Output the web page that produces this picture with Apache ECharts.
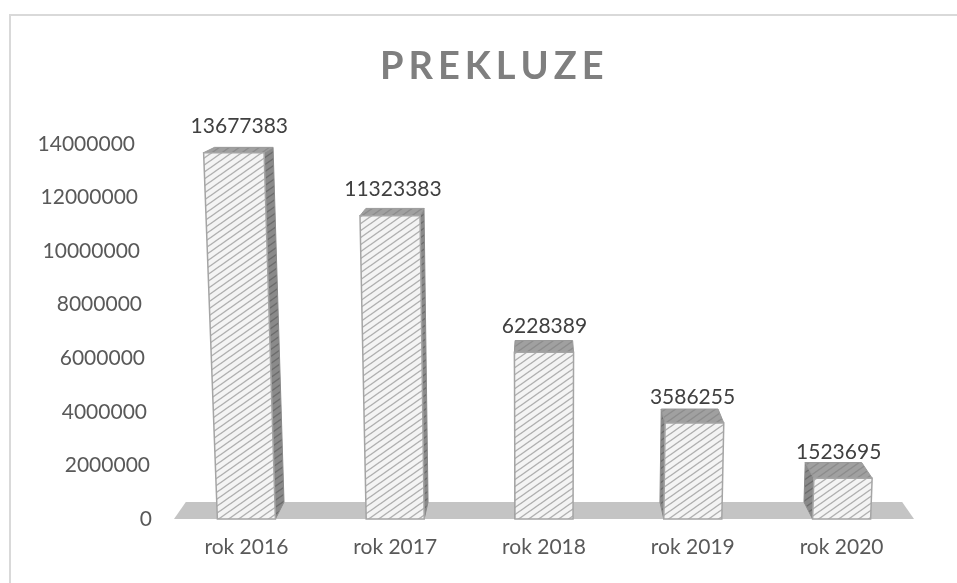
<!DOCTYPE html>
<html>
<head>
<meta charset="utf-8">
<script src="https://cdn.jsdelivr.net/npm/echarts@6/dist/echarts.min.js"></script>
<style>
    html, body {margin: 0; padding: 0; background: #fff;}
    #main {width: 957px; height: 583px;}
</style>
</head>
<body>
<div id="main"></div>
<script>
// data
var years = ['rok 2016', 'rok 2017', 'rok 2018', 'rok 2019', 'rok 2020'];
var values = [13677383, 11323383, 6228389, 3586255, 1523695];
var yMin = 0, yMax = 14000000, yStep = 2000000;

// perspective of the excel 3d chart
var VX = 544, VY = -12;   // depth vanishing point
var DEPTH = 0.032;        // how far the back face sits
var LEAN = 1.15e-4;       // vertical lines lean in to the bottom
var FONT = 'Lato, "Open Sans", sans-serif';

// hatch pattern /////
function hatch(bg, line, lw) {
    var c = document.createElement('canvas');
    c.width = 10;
    c.height = 7;
    var ctx = c.getContext('2d');
    ctx.fillStyle = bg;
    ctx.fillRect(0, 0, 10, 7);
    ctx.strokeStyle = line;
    ctx.lineWidth = lw;
    [0, 7, 14].forEach(function (b) {
        ctx.beginPath();
        ctx.moveTo(-10, b + 7);
        ctx.lineTo(20, b - 14);
        ctx.stroke();
    });
    return {image: c, repeat: 'repeat'};
}
var frontFill = hatch('#f4f4f4', '#b0b0b0', 1.4);
var sideFill = hatch('#8a8a8a', '#6c6c6c', 1.4);
var topFill = hatch('#a0a0a0', '#8c8c8c', 1.4);

function back(p) {
    return [p[0] + (VX - p[0]) * DEPTH, p[1] - (p[1] - VY) * DEPTH];
}

function renderItem(params, api) {
    var idx = api.value(0);
    var v = api.value(1);
    var base = api.coord([idx, 0]);
    var top = api.coord([idx, v]);
    var band = api.size([1, 0])[0];
    var w = band * 0.195;
    var cx = base[0], yb = base[1], yt = top[1], h = yb - yt;
    var lean = function (x) { return x + (x - VX) * LEAN * h; };
    var BL = [cx - w, yb], BR = [cx + w, yb];
    var TL = [lean(cx - w), yt], TR = [lean(cx + w), yt];
    var children = [];

    // floor goes under the first bar
    if (params.dataIndex === 0) {
        var cs = params.coordSys;
        var fy = cs.y + cs.height;
        var FL = [cs.x + 2, fy], FR = [cs.x + cs.width - 2, fy];
        children.push({
            type: 'polygon',
            shape: {points: [FL, FR, back(FR), back(FL)]},
            style: {fill: '#c4c4c4'}
        });
    }

    var side = cx < VX ? [BR, TR, back(TR), back(BR)] : [BL, TL, back(TL), back(BL)];
    children.push({
        type: 'polygon',
        shape: {points: side},
        style: {fill: sideFill, stroke: '#8a8a8a', lineWidth: 1}
    });
    children.push({
        type: 'polygon',
        shape: {points: [TL, TR, back(TR), back(TL)]},
        style: {fill: topFill, stroke: '#9a9a9a', lineWidth: 1}
    });
    children.push({
        type: 'polygon',
        shape: {points: [BL, BR, TR, TL]},
        style: {fill: frontFill, stroke: '#a5a5a5', lineWidth: 1.5}
    });
    var bk = back(TL);
    children.push({
        type: 'text',
        style: {
            text: String(values[params.dataIndex]),
            x: (TL[0] + TR[0]) / 2 + (bk[0] - TL[0]) / 2,
            y: yt - 26,
            align: 'center',
            verticalAlign: 'middle',
            fontSize: 21,
            fontFamily: FONT,
            fill: '#404040'
        }
    });
    return {type: 'group', children: children};
}

// y labels lean the same way as the bars
var yRich = {};
var plotH = 375;
for (var k = 0; k <= (yMax - yMin) / yStep; k++) {
    var hh = (k * yStep) / (yMax - yMin) * plotH;
    yRich['p' + k] = {
        padding: [0, Math.round((VX - 152) * LEAN * hh), 0, 0],
        fontSize: 21,
        fontFamily: FONT,
        color: '#595959'
    };
}

// title letters spaced out
var titleText = 'PREKLUZE';
var titleStr = titleText.split('').map(function (ch, i) {
    return (i < titleText.length - 1 ? '{s|' : '{e|') + ch + '}';
}).join('');

var chart = echarts.init(document.getElementById('main'));
var option = {
    animation: false,
    backgroundColor: '#fff',
    graphic: [{
        type: 'rect',
        shape: {x: 10, y: 15, width: 980, height: 620},
        style: {fill: 'none', stroke: '#d9d9d9', lineWidth: 2},
        silent: true,
        z: -10
    }],
    title: {
        text: titleStr,
        left: 375,
        top: 43,
        textStyle: {
            rich: {
                s: {fontSize: 38, fontWeight: 'bold', fontFamily: FONT, color: '#7f7f7f', padding: [0, 5, 0, 0]},
                e: {fontSize: 38, fontWeight: 'bold', fontFamily: FONT, color: '#7f7f7f'}
            }
        }
    },
    grid: {left: 172, right: 41, top: 144, bottom: 64},
    xAxis: {
        type: 'category',
        data: years,
        axisLine: {show: false},
        axisTick: {show: false},
        axisLabel: {
            margin: 18,
            fontSize: 21,
            fontFamily: FONT,
            color: '#595959'
        }
    },
    yAxis: {
        type: 'value',
        min: yMin,
        max: yMax,
        interval: yStep,
        axisLine: {show: false},
        axisTick: {show: false},
        splitLine: {show: false},
        axisLabel: {
            margin: 20,
            formatter: function (value, index) {
                return '{p' + Math.round(value / yStep) + '|' + value + '}';
            },
            rich: yRich
        }
    },
    series: [{
        type: 'custom',
        renderItem: renderItem,
        encode: {x: 0, y: 1},
        data: values.map(function (v, i) { return [i, v]; })
    }]
};
chart.setOption(option);
window.onresize = chart.resize;
</script>
</body>
</html>
